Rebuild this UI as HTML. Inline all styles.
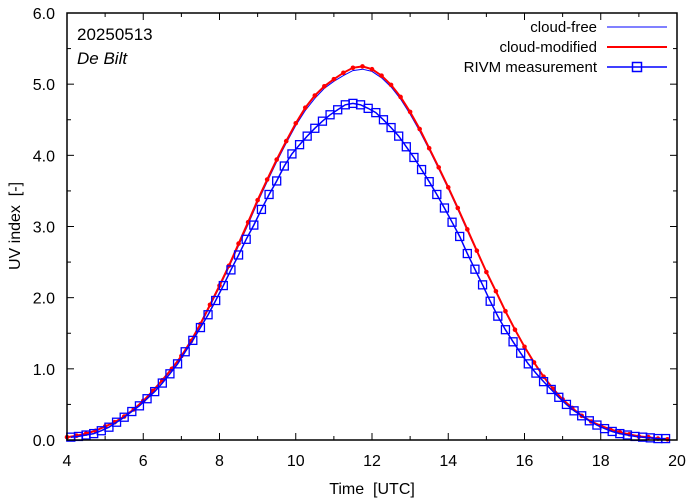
<!DOCTYPE html>
<html><head><meta charset="utf-8"><style>
body{margin:0;background:#fff;}
svg{display:block;font-family:"Liberation Sans",sans-serif;}
</style></head><body>
<svg id="chart" width="694" height="501" viewBox="0 0 694 501" xmlns="http://www.w3.org/2000/svg">
<rect x="0" y="0" width="694" height="501" fill="#fff"/>
<g id="axes"></g>
<g id="series"></g>
<rect x="67" y="13" width="610" height="427" fill="none" stroke="#000" stroke-width="1.5"/>
<text x="77" y="40" font-size="17">20250513</text>
<text x="77" y="64" font-size="17" font-style="italic">De Bilt</text>
<text x="372" y="494" font-size="16" text-anchor="middle" xml:space="preserve">Time  [UTC]</text>
<text transform="translate(20,226) rotate(-90)" font-size="16" text-anchor="middle" xml:space="preserve">UV index  [-]</text>
<g>
<g>
<text x="597" y="32" font-size="15" text-anchor="end">cloud-free</text>
<line x1="607" y1="27" x2="667" y2="27" stroke="#0000ff" stroke-width="1"/></g>
<g>
<text x="597" y="52" font-size="15" text-anchor="end">cloud-modified</text>
<line x1="607" y1="47" x2="667" y2="47" stroke="#ff0000" stroke-width="2"/></g>
<g>
<text x="597" y="72" font-size="15" text-anchor="end">RIVM measurement</text>
<line x1="607" y1="67" x2="667" y2="67" stroke="#0000ff" stroke-width="1.5"/>
<rect x="632.5" y="62.5" width="9" height="9" fill="none" stroke="#0000ff" stroke-width="1.5"/></g>
</g>
</svg>
<script>
const xTicks=[4,6,8,10,12,14,16,18,20];
const yTicks=[0,1,2,3,4,5,6];
const yTickLabels=["0.0","1.0","2.0","3.0","4.0","5.0","6.0"];
const modelStart=4.0, modelStep=0.25;
const cloudModified=[.04,.06,.09,.13,.19,.25,.33,.43,.55,.69,.84,1.0,1.18,1.39,1.63,1.9,2.17,2.45,2.76,3.06,3.37,3.66,3.94,4.2,4.45,4.67,4.84,4.97,5.07,5.16,5.23,5.25,5.21,5.12,4.99,4.82,4.61,4.37,4.1,3.83,3.55,3.26,2.96,2.66,2.36,2.09,1.81,1.55,1.31,1.09,.89,.72,.57,.45,.34,.26,.2,.15,.11,.08,.05,.04,.02,.01];
const cloudFree=[.04,.06,.09,.13,.19,.25,.33,.43,.55,.69,.84,1.0,1.18,1.39,1.62,1.88,2.15,2.43,2.73,3.03,3.34,3.63,3.91,4.17,4.42,4.63,4.8,4.94,5.04,5.12,5.19,5.21,5.18,5.09,4.96,4.79,4.58,4.34,4.08,3.81,3.53,3.24,2.94,2.65,2.35,2.08,1.8,1.55,1.31,1.09,.89,.72,.57,.45,.34,.26,.2,.15,.11,.08,.05,.04,.02,.01];
const measStart=4.1, measStep=0.2;
const measurement=[.04,.05,.07,.09,.13,.18,.25,.32,.40,.48,.58,.68,.80,.93,1.07,1.24,1.40,1.58,1.76,1.96,2.17,2.39,2.60,2.82,3.02,3.24,3.45,3.64,3.85,4.02,4.15,4.27,4.38,4.48,4.57,4.64,4.71,4.73,4.71,4.66,4.6,4.5,4.39,4.27,4.12,3.97,3.8,3.63,3.45,3.26,3.06,2.86,2.62,2.4,2.18,1.95,1.74,1.55,1.38,1.22,1.07,.94,.82,.71,.6,.5,.41,.34,.27,.21,.16,.12,.09,.07,.05,.04,.03,.02,.02];
const X0=67,X1=677,Y0=440,Y1=13;
function sx(t){return X0+(t-4)/16*(X1-X0);}
function sy(v){return Y0-v/6*(Y0-Y1);}
const NS="http://www.w3.org/2000/svg";
function mk(tag,attrs,parent){const e=document.createElementNS(NS,tag);for(const k in attrs)e.setAttribute(k,attrs[k]);parent.appendChild(e);return e;}
const axes=document.getElementById('axes');
for(let h=4;h<=20;h++){
  const x=sx(h),len=(h%2===0)?7:4;
  const t1=mk('line',{x1:x,y1:Y0,x2:x,y2:Y0-len,stroke:'#000'},axes);
  
  
  const t2=mk('line',{x1:x,y1:Y1,x2:x,y2:Y1+len,stroke:'#000'},axes);
  
  
}
xTicks.forEach(h=>{
  const t=mk('text',{x:sx(h),y:466,'font-size':16,'text-anchor':'middle'},axes);
  t.textContent=String(h);
  
  
});
for(let v=0;v<=6;v+=0.5){
  const y=sy(v),len=(Math.abs(v%1)<1e-9)?7:4;
  const t1=mk('line',{x1:X0,y1:y,x2:X0+len,y2:y,stroke:'#000'},axes);
  
  
  const t2=mk('line',{x1:X1,y1:y,x2:X1-len,y2:y,stroke:'#000'},axes);
  
  
}
yTicks.forEach((v,i)=>{
  const t=mk('text',{x:55,y:sy(v)+6,'font-size':16,'text-anchor':'end'},axes);
  t.textContent=yTickLabels[i];
  
  
});
const series=document.getElementById('series');
function pts(arr,start,step){return arr.map((v,i)=>sx(start+i*step).toFixed(1)+','+sy(v).toFixed(1)).join(' ');}
const cf=mk('polyline',{points:pts(cloudFree,modelStart,modelStep),fill:'none',stroke:'#0000ff','stroke-width':1},series);


const cm=mk('polyline',{points:pts(cloudModified,modelStart,modelStep),fill:'none',stroke:'#ff0000','stroke-width':2},series);


cloudModified.forEach((v,i)=>{
  const c=mk('circle',{cx:sx(modelStart+i*modelStep),cy:sy(v),r:2.3,fill:'#ff0000'},series);
  
  
});
const ml=mk('polyline',{points:pts(measurement,measStart,measStep),fill:'none',stroke:'#0000ff','stroke-width':1.5},series);


measurement.forEach((v,i)=>{
  const x=sx(measStart+i*measStep),y=sy(v);
  const r=mk('rect',{x:x-4,y:y-4,width:8,height:8,fill:'none',stroke:'#0000ff','stroke-width':1.3},series);
  
  
});
</script>
</body></html>
